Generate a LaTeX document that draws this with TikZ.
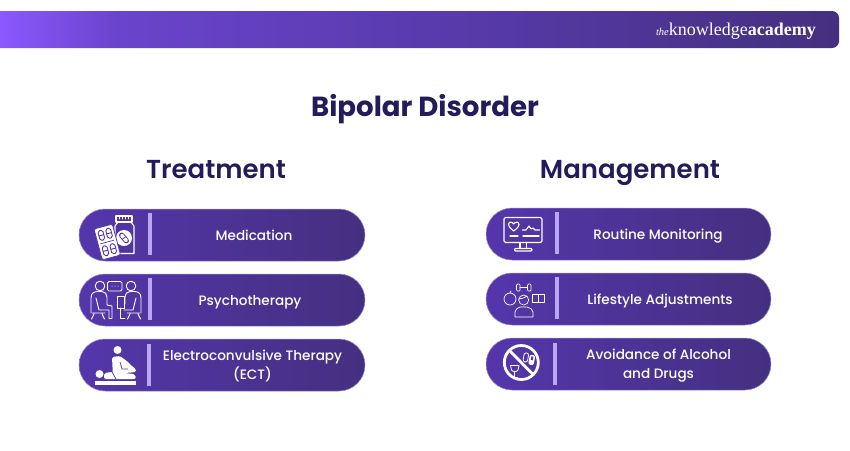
\documentclass[tikz,border=0pt]{standalone}
\usepackage{fontspec}
\setmainfont{Poppins}
\newfontfamily\labelfont{Poppins Medium}
\newfontfamily\titlefont{Poppins SemiBold}
\newfontfamily\boldtitlefont{Poppins Bold}
\newfontfamily\logofont{Liberation Serif}
\definecolor{bannerA}{HTML}{8C58FF}
\definecolor{bannerB}{HTML}{6A44CC}
\definecolor{bannerC}{HTML}{5A3BAE}
\definecolor{bannerD}{HTML}{44307F}
\definecolor{pillA}{HTML}{5436AB}
\definecolor{pillB}{HTML}{443080}
\definecolor{pillline}{HTML}{9788D2}
\definecolor{barcol}{HTML}{B9A6F6}
\definecolor{inkcol}{HTML}{231B5A}
\pgfdeclarehorizontalshading{bannershade}{100bp}{color(0bp)=(bannerA); color(25bp)=(bannerA); color(32bp)=(bannerB); color(50bp)=(bannerC); color(75bp)=(bannerD); color(100bp)=(bannerD)}
\tikzset{
  pill/.style={minimum width=286pt, minimum height=52pt, rounded corners=26pt, inner sep=0pt, draw=pillline, line width=0.5pt, left color=pillA, right color=pillB},
  pilltext/.style={text=white, align=center, font=\labelfont\fontsize{13.6}{18.5}\selectfont},
  heading/.style={anchor=base, text=inkcol, font=\titlefont\fontsize{26}{30}\selectfont},
  bar/.style={fill=barcol, draw=none},
  iconline/.style={draw=white, line width=1.1pt, line cap=round, line join=round},
  thinline/.style={iconline, line width=0.9pt},
  iconfill/.style={fill=white, draw=none},
}
\begin{document}
\begin{tikzpicture}[x=1pt,y=-1pt]
  \useasboundingbox (0,0) rectangle (850,450);
  % banner
  \path[shading=bannershade] (0,11) [rounded corners=7pt] -- (839,11) -- (839,48) [sharp corners] -- (0,48) -- cycle;
  \node (logo) [anchor=base east, inner sep=0pt, text=white, font=\logofont\fontsize{18}{20}\selectfont] at (816,35.5) {{\fontsize{10.5}{12}\selectfont\itshape the}knowledge\textbf{academy}};
  % headings
  \node (title) [heading, font=\boldtitlefont\fontsize{27.6}{32}\selectfont] at (425,116.5) {Bipolar Disorder};
  \node (treatment) [heading] at (216,178) {Treatment};
  \node (management) [heading] at (630,178) {Management};
  % pills
  \node (medpill) [pill] at (222,235) {};
  \node (psypill) [pill] at (222,300) {};
  \node (ectpill) [pill] at (222,365) {};
  \node (monpill) [pill, minimum width=285pt] at (628.5,234) {};
  \node (lifepill) [pill, minimum width=285pt] at (628.5,299) {};
  \node (avoidpill) [pill, minimum width=285pt] at (628.5,364) {};
  % divider bars
  \fill[bar] (148.3,213) rectangle (152.3,255);
  \fill[bar] (148.3,278) rectangle (152.3,320);
  \fill[bar] (147.3,344) rectangle (151.3,386);
  \fill[bar] (554.7,212) rectangle (558.7,254);
  \fill[bar] (554.7,277) rectangle (558.7,319);
  \fill[bar] (553.2,343) rectangle (557.2,385);
  % pill labels
  \node (medtext) [pilltext, anchor=base] at (254,240) {Medication};
  \node (psytext) [pilltext, anchor=base] at (250,305) {Psychotherapy};
  \node (ecttext) [pilltext] at (252.5,366) {Electroconvulsive Therapy\\(ECT)};
  \node (montext) [pilltext, anchor=base] at (658,239) {Routine Monitoring};
  \node (lifetext) [pilltext, anchor=base] at (660,304) {Lifestyle Adjustments};
  \node (avoidtext) [pilltext] at (658.5,365.5) {Avoidance of Alcohol\\and Drugs};
  % medication icon
  \draw[iconline] (115,226) -- (115,251) -- (118,253.5) -- (134,253.5) -- (134,226) -- (131,222) -- (118,222) -- cycle;
  \draw[iconline] (116,216) rectangle (132,222);
  \foreach \x in {119,122,125,128} \draw[iconline, line width=0.6pt] (\x,216) -- (\x,219);
  \fill[iconfill] (124,238) circle [radius=8];
  \draw[pillA, line width=5.4pt, line cap=round, rotate around={-50:(124,238)}] (120.5,238) -- (127.5,238);
  \draw[white, line width=3.6pt, line cap=round, rotate around={-50:(124,238)}] (120.5,238) -- (127.5,238);
  \draw[pillA, line width=0.8pt, rotate around={-50:(124,238)}] (124,235.5) -- (124,240.5);
  \begin{scope}[shift={(107.3,242)}, rotate=15]
    \fill[iconfill, draw=pillA, line width=0.8pt, rounded corners=2pt] (-9.5,-16) rectangle (9.5,16);
    \draw[pillA, line width=0.7pt] (-7,0) -- (7,0);
    \foreach \x in {-4,4} \foreach \y in {-8,8} {
      \draw[pillA, line width=0.9pt, rounded corners=1.8pt] (\x-2.5,\y-5) rectangle (\x+2.5,\y+5);
      \draw[pillA, line width=0.9pt] (\x-2.5,\y) -- (\x+2.5,\y);
    }
  \end{scope}
  % psychotherapy icon
  \draw[thinline] (100,286) circle [radius=4.8];
  \draw[thinline] (131,286) circle [radius=4.8];
  \draw[thinline, rounded corners=1.5pt] (107.5,281.5) rectangle (122,291);
  \fill[iconfill] (112,286) circle [radius=0.5] (115,286) circle [radius=0.5] (118,286) circle [radius=0.5];
  \draw[thinline] (91,313) -- (91,298) .. controls (91,293) and (94,291.5) .. (98,291.5) -- (102,291.5) .. controls (105,291.5) and (107,294) .. (107,297) -- (107,305) -- (112,306) -- (112,318.5) -- (109,318.5) -- (109,310) -- (99,310) -- (96,298);
  \draw[thinline] (92,313) -- (105,313) (94,314) -- (91.5,319) (102,314) -- (104.5,319);
  \draw[thinline] (141,313) -- (141,298) .. controls (141,293) and (138,291.5) .. (134,291.5) -- (130,291.5) .. controls (127,291.5) and (125,294) .. (125,297) -- (125,304) (124,310) -- (133,310) -- (136,298);
  \draw[thinline] (140,313) -- (127,313) (138,314) -- (140.5,319) (130,314) -- (127.5,319);
  \draw[thinline] (117,296) rectangle (124,308);
  \draw[thinline] (120.5,308) -- (120.5,318.5) -- (125,318.5);
  % ect icon
  \fill[iconfill] (117.5,350) circle [radius=4];
  \fill[iconfill, rounded corners=1.5pt] (112,357) -- (120,356) -- (128,362) -- (133,367) -- (136,369) -- (136,372) -- (125,373) -- (122,377) -- (113,377) -- cycle;
  \draw[pillA, line width=0.7pt] (120,362) -- (122,369) -- (128,369);
  \fill[iconfill] (99.5,374) circle [radius=4];
  \fill[iconfill, rounded corners=2pt] (104,373) -- (112,372) -- (135,374) -- (136,379) -- (104,379) -- cycle;
  \draw[pillA, line width=0.7pt] (112,372) -- (116,379);
  \fill[iconfill] (95,380.5) rectangle (136,384.5);
  % monitor icon
  \draw[iconline, rounded corners=1.5pt] (504,217.5) rectangle (542,242.5);
  \draw[iconline] (520,242.5) -- (520,248.5) (526.5,242.5) -- (526.5,248.5);
  \draw[iconline, rounded corners=1pt] (514.5,248.5) rectangle (532,251);
  \draw[iconline] (513.7,231) .. controls (510,228) and (508.5,226.5) .. (508.5,224.5) .. controls (508.5,221.5) and (512.5,221.5) .. (513.7,224) .. controls (515,221.5) and (519,221.5) .. (519,224.5) .. controls (519,226.5) and (517.5,228) .. (513.7,231) -- cycle;
  \draw[iconline] (522.5,230) -- (526,230) -- (529,226) -- (531,229) -- (533,228) -- (535,230) -- (539.5,230);
  \draw[iconline] (510,236) -- (518,236) (523,236) -- (539,236);
  % lifestyle icon
  \draw[iconline, line width=0.7pt, rounded corners=1pt] (516.5,284) rectangle (520,291);
  \draw[iconline, line width=0.7pt, rounded corners=1pt] (527.5,284) rectangle (531,291);
  \draw[iconline, line width=0.7pt] (520,287.5) -- (527.5,287.5);
  \draw[iconline, line width=0.7pt] (510,299) circle [radius=6];
  \draw[iconline, line width=0.7pt] (510,293) -- (511,291);
  \draw[iconline, line width=0.7pt] (532,294.5) rectangle (544,302.5) (538,294.5) -- (538,302.5);
  \fill[pillA] (523.7,300) circle [radius=5.5];
  \draw[iconline, line width=0.7pt] (523.7,300) circle [radius=5];
  \draw[iconline, line width=0.7pt] (518.7,299) .. controls (522,299) and (525,297.5) .. (527,296);
  \draw[iconline, line width=0.7pt] (515,317) -- (515,312) .. controls (515,309) and (518,308) .. (520,307) -- (527,307) .. controls (530,308) and (533,309) .. (533,312) -- (533,317) -- cycle;
  % avoidance icon
  \draw[iconline, line width=2.8pt] (521.3,362.5) circle [radius=17];
  \draw[iconline, line width=2.8pt] (509.5,350.5) -- (533,374.5);
  \begin{scope}[shift={(526,358)}, rotate=-10]
    \draw[iconline, line width=0.8pt, rounded corners=2pt] (-2.5,-5) rectangle (2,4);
  \end{scope}
  \begin{scope}[shift={(532,360)}, rotate=-10]
    \fill[iconfill, rounded corners=2pt] (-3,-5) rectangle (2.5,5);
    \fill[pillA] (-1.2,-3.5) rectangle (0.8,0);
  \end{scope}
  \draw[iconline, line width=0.8pt] (510.5,365.5) -- (519,365.5) -- (518,370) .. controls (517.5,372) and (512,372) .. (511.5,370) -- cycle;
  \draw[iconline, line width=0.8pt] (514.8,372) -- (514.8,377) (512,377.5) -- (517.5,377.5);
\end{tikzpicture}
\end{document}
